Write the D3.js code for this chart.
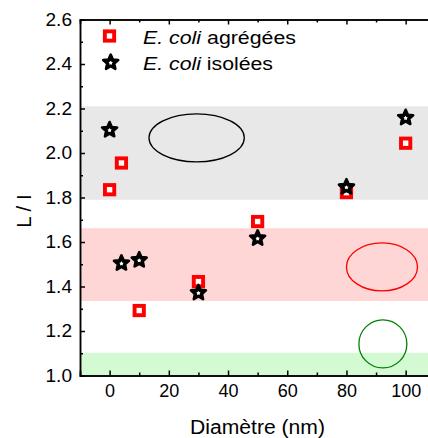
<!DOCTYPE html>
<html>
<head>
<meta charset="utf-8">
<script src="https://cdn.jsdelivr.net/npm/d3@7"></script>
<style>
  html, body { margin: 0; padding: 0; background: #fff; }
  svg { display: block; font-family: "Liberation Sans", Arial, sans-serif; }
</style>
</head>
<body>
<svg id="chart" width="428" height="438"></svg>
<script>
// ---- data ----
const aggDiam = [0, 4, 10, 30, 50, 80, 100];
const aggRatio = [1.835, 1.955, 1.292, 1.422, 1.692, 1.822, 2.044];
const isoDiam = [0, 4, 10, 30, 50, 80, 100];
const isoRatio = [2.106, 1.507, 1.521, 1.374, 1.619, 1.849, 2.161];
const bandLow = [1.79, 1.335, 1.0];
const bandHigh = [2.21, 1.662, 1.102];
const bandColors = ["#e8e8e8", "#ffd6d6", "#d4fad4"];
const ellCx = [29.4, 92.0, 92.3];
const ellCy = [2.068, 1.488, 1.142];
const ellRxData = [16.1, 12.0, 8.1];
const ellRyData = [0.108, 0.108, 0.108];
const ellColors = ["#000000", "#ff0000", "#008000"];
const yTicks = [1.0, 1.2, 1.4, 1.6, 1.8, 2.0, 2.2, 2.4, 2.6];
const xTicks = [0, 20, 40, 60, 80, 100];
const legendLabels = [["E. coli", " agrégées"], ["E. coli", " isolées"]];

// ---- layout ----
const svg = d3.select("#chart");
const L = 80, T = 19.5, B = 375.5, R = 440;
const x = d3.scaleLinear().domain([-10, 111.6]).range([L, R]);
const y = d3.scaleLinear().domain([1.0, 2.6]).range([B, T]);

// bands
svg.selectAll("rect.band").data(bandLow).join("rect")
  .attr("x", L).attr("width", R - L)
  .attr("y", (d, i) => y(bandHigh[i]))
  .attr("height", (d, i) => y(d) - y(bandHigh[i]))
  .attr("fill", (d, i) => bandColors[i]);

// ellipses
svg.selectAll("ellipse").data(ellCx).join("ellipse")
  .attr("cx", d => x(d))
  .attr("cy", (d, i) => y(ellCy[i]))
  .attr("rx", (d, i) => x(ellRxData[i]) - x(0))
  .attr("ry", (d, i) => y(1.0) - y(1.0 + ellRyData[i]))
  .attr("fill", "none")
  .attr("stroke", (d, i) => ellColors[i])
  .attr("stroke-width", 1.3);

// custom fat star symbol (inner radius ratio k)
function fatStar(k) {
  return {
    draw(ctx, size) {
      const r = Math.sqrt(size);
      for (let i = 0; i < 10; i++) {
        const a = -Math.PI / 2 + i * Math.PI / 5;
        const rr = i % 2 === 0 ? r : r * k;
        const px = rr * Math.cos(a), py = rr * Math.sin(a);
        if (i === 0) ctx.moveTo(px, py); else ctx.lineTo(px, py);
      }
      ctx.closePath();
    }
  };
}
const starPath = d3.symbol().type(fatStar(0.47)).size(62)();
const holePath = d3.symbol().type(fatStar(0.6)).size(5)();
const sqSize = 9.3;

function drawSquare(g, cx, cy) {
  g.append("rect")
    .attr("x", cx - sqSize / 2).attr("y", cy - sqSize / 2)
    .attr("width", sqSize).attr("height", sqSize)
    .attr("fill", "#fff").attr("stroke", "#ff0000").attr("stroke-width", 3.9);
}
function drawStar(g, cx, cy) {
  g.append("path").attr("d", starPath)
    .attr("transform", `translate(${cx},${cy + 0.5})`)
    .attr("fill", "#000").attr("stroke", "#000").attr("stroke-width", 2.6)
    .attr("stroke-linejoin", "round");
  g.append("path").attr("d", holePath)
    .attr("transform", `translate(${cx},${cy + 0.9})`)
    .attr("fill", "#fff");
}

const gPts = svg.append("g");
aggDiam.forEach((d, i) => drawSquare(gPts, x(d), y(aggRatio[i])));
isoDiam.forEach((d, i) => drawStar(gPts, x(d), y(isoRatio[i])));

// axes
const axisW = 1.5;
const gBottom = svg.append("g").attr("transform", `translate(0,${B})`)
  .call(d3.axisBottom(x).tickValues(xTicks).tickSize(-5).tickPadding(9).tickFormat(d3.format("d")));
const gBottomMinor = svg.append("g").attr("transform", `translate(0,${B})`)
  .call(d3.axisBottom(x).tickValues(xTicks.map(v => v + 10)).tickSize(-3).tickFormat(""));
const gTop = svg.append("g").attr("transform", `translate(0,${T})`)
  .call(d3.axisTop(x).tickValues(xTicks).tickSize(-5).tickFormat(""));
const gTopMinor = svg.append("g").attr("transform", `translate(0,${T})`)
  .call(d3.axisTop(x).tickValues(xTicks.map(v => v + 10)).tickSize(-3).tickFormat(""));
const gLeft = svg.append("g").attr("transform", `translate(${L},0)`)
  .call(d3.axisLeft(y).tickValues(yTicks).tickSize(-5).tickPadding(8).tickFormat(d3.format(".1f")));
const gLeftMinor = svg.append("g").attr("transform", `translate(${L},0)`)
  .call(d3.axisLeft(y).tickValues(yTicks.slice(0, -1).map(v => v + 0.1)).tickSize(-3).tickFormat(""));

[gBottom, gBottomMinor, gTop, gTopMinor, gLeft, gLeftMinor].forEach(g => {
  g.select(".domain").attr("stroke", "#000").attr("stroke-width", axisW);
  g.selectAll(".tick line").attr("stroke", "#000").attr("stroke-width", axisW);
  g.selectAll(".tick text").attr("fill", "#000").attr("font-size", 18)
    .attr("font-family", "'Liberation Sans', Arial, sans-serif");
});
gLeft.selectAll(".tick text").attr("textLength", 26.5).attr("lengthAdjust", "spacingAndGlyphs");

// axis titles
svg.append("text").attr("x", 190).attr("y", 434)
  .attr("font-size", 19.5).attr("textLength", 135).attr("lengthAdjust", "spacingAndGlyphs")
  .text("Diamètre (nm)");
svg.append("text").attr("transform", "translate(31,211) rotate(-90)")
  .attr("text-anchor", "middle").attr("font-size", 20.5).text("L / I");

// legend
const legY = [36, 62];
drawSquare(svg, 109.5, legY[0]);
drawStar(svg, 110.7, legY[1]);
const legLen = [153, 130];
legendLabels.forEach((lab, i) => {
  const t = svg.append("text").attr("x", 143).attr("y", legY[i] + 8.3).attr("font-size", 17.5)
    .attr("textLength", legLen[i]).attr("lengthAdjust", "spacingAndGlyphs");
  t.append("tspan").attr("font-style", "italic").text(lab[0]);
  t.append("tspan").text(lab[1]);
});
</script>
</body>
</html>
